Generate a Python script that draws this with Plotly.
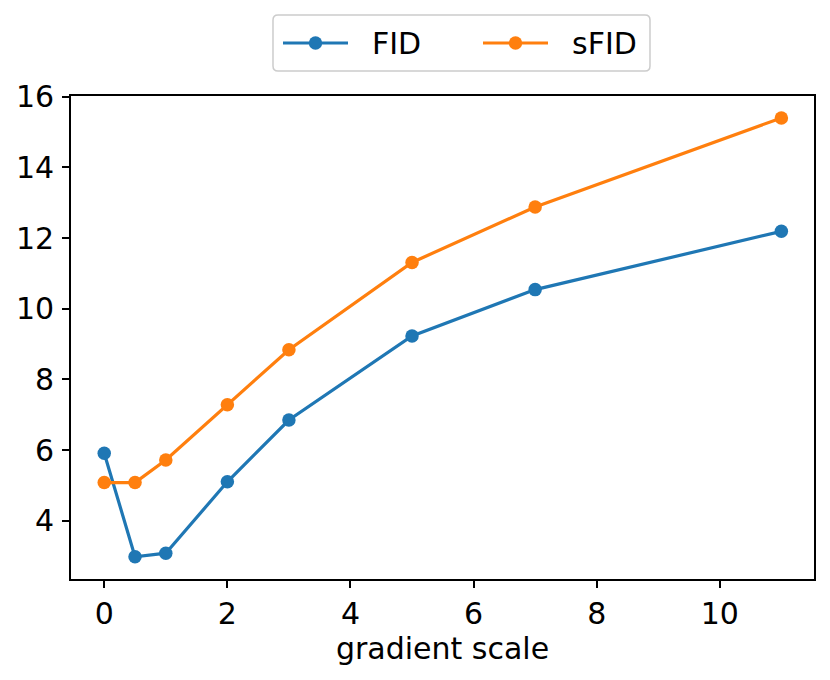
import plotly.graph_objects as go

# Data
guidance_scale = [0, 0.5, 1, 2, 3, 5, 7, 11]
fid = [5.91, 2.98, 3.08, 5.10, 6.85, 9.23, 10.54, 12.19]
sfid = [5.08, 5.08, 5.72, 7.28, 8.84, 11.31, 12.88, 15.40]
series_names = ["FID", "sFID"]
x_ticks = [0, 2, 4, 6, 8, 10]
y_ticks = [4, 6, 8, 10, 12, 14, 16]
x_label = "gradient scale"

BLUE = "#1f77b4"
ORANGE = "#ff7f0e"
FONT = "DejaVu Sans"
FS = 30

# page has an 8px body margin: figure starts at (8, 8)
OFF = 8
W, H = 830 - OFF, 680 - OFF
ML, MR, MT, MB = 71 - OFF, 16, 96 - OFF, 101
PW = W - ML - MR
PH = H - MT - MB

fig = go.Figure()
for name, vals, col in [(series_names[0], fid, BLUE), (series_names[1], sfid, ORANGE)]:
    fig.add_trace(go.Scatter(
        x=guidance_scale, y=vals, mode="lines+markers", name=name,
        line=dict(color=col, width=3.2), marker=dict(color=col, size=13.5),
        showlegend=False, cliponaxis=False,
    ))

# convert page pixel coordinates (of the screenshot) to paper coordinates
def px_to_paper_x(px):
    return (px - OFF - ML) / PW

def px_to_paper_y(py):
    return 1 - (py - OFF - MT) / PH

shapes = []
annotations = []
# Legend box (rounded rectangle)
bx0, bx1, by0, by1, r = 273, 650, 15, 71, 5
def P(x, y):
    return f"{px_to_paper_x(x):.5f},{px_to_paper_y(y):.5f}"
path = (f"M {P(bx0 + r, by0)} L {P(bx1 - r, by0)} Q {P(bx1, by0)} {P(bx1, by0 + r)} "
        f"L {P(bx1, by1 - r)} Q {P(bx1, by1)} {P(bx1 - r, by1)} "
        f"L {P(bx0 + r, by1)} Q {P(bx0, by1)} {P(bx0, by1 - r)} "
        f"L {P(bx0, by0 + r)} Q {P(bx0, by0)} {P(bx0 + r, by0)} Z")
shapes.append(dict(type="path", xref="paper", yref="paper", path=path,
                   line=dict(color="#cccccc", width=1.5), fillcolor="rgba(255,255,255,0.8)", layer="above"))
ly = 43
for (lx0, lx1, tx), name, col in [((283, 348, 370), series_names[0], BLUE), ((483, 548, 570), series_names[1], ORANGE)]:
    shapes.append(dict(type="line", xref="paper", yref="paper",
                       x0=px_to_paper_x(lx0), x1=px_to_paper_x(lx1),
                       y0=px_to_paper_y(ly), y1=px_to_paper_y(ly),
                       line=dict(color=col, width=3.2), layer="above"))
    cx = px_to_paper_x((lx0 + lx1) / 2)
    cy = px_to_paper_y(ly)
    shapes.append(dict(type="circle", xref="paper", yref="paper",
                       xsizemode="pixel", ysizemode="pixel", xanchor=cx, yanchor=cy,
                       x0=-6.7, x1=6.7, y0=-6.7, y1=6.7,
                       fillcolor=col, line=dict(color=col, width=0), layer="above"))
    annotations.append(dict(text=name, xref="paper", yref="paper",
                            x=px_to_paper_x(tx), y=cy, xanchor="left", yanchor="middle",
                            showarrow=False, font=dict(family=FONT, size=FS, color="black")))

fig.update_layout(
    width=W, height=H,
    margin=dict(l=ML, r=MR, t=MT, b=MB),
    paper_bgcolor="white", plot_bgcolor="white",
    font=dict(family=FONT, size=FS, color="black"),
    shapes=shapes, annotations=annotations,
    showlegend=False,
)
fig.update_xaxes(
    range=[-0.54, 11.53], tickvals=x_ticks, ticktext=[str(v) for v in x_ticks],
    showgrid=False, zeroline=False, showline=True, linecolor="black", linewidth=1.6,
    mirror=True, ticks="outside", ticklen=7, tickwidth=1.6, tickcolor="black",
    title=dict(text=x_label, font=dict(family=FONT, size=FS), standoff=1),
    tickfont=dict(family=FONT, size=FS), automargin=False,
)
fig.update_yaxes(
    range=[2.35, 16.02], tickvals=y_ticks, ticktext=[str(v) for v in y_ticks],
    showgrid=False, zeroline=False, showline=True, linecolor="black", linewidth=1.6,
    mirror=True, ticks="outside", ticklen=7, tickwidth=1.6, tickcolor="black",
    tickfont=dict(family=FONT, size=FS), ticklabelstandoff=2, automargin=False,
)

fig.write_html("out.html")
